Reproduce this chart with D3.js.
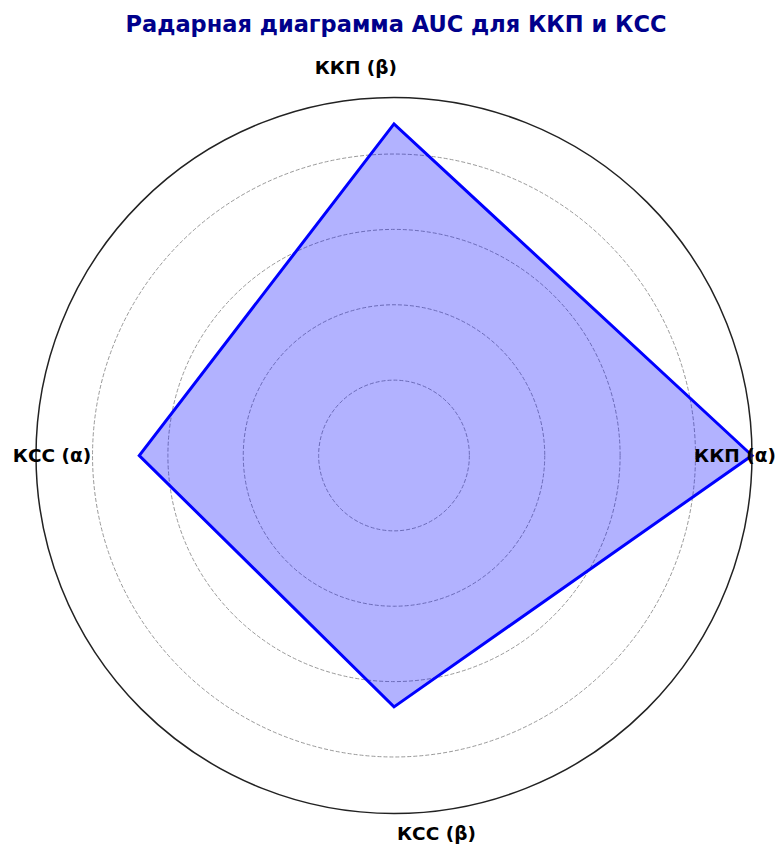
<!DOCTYPE html>
<html>
<head>
<meta charset="utf-8">
<script src="https://cdn.jsdelivr.net/npm/d3@7.9.0/dist/d3.min.js"></script>
<style>
  body { margin: 0; background: #fff; }
  svg { display: block; font-family: "DejaVu Sans", sans-serif; }
</style>
</head>
<body>
<svg id="radar" width="780" height="845"></svg>
<script>
// AUC values per axis (counter-clockwise from the right)
const axes = ['ККП (α)', 'ККП (β)', 'КСС (α)', 'КСС (β)'];
const aucValues = [0.95, 0.88, 0.676, 0.667];
const gridTicks = [0.2, 0.4, 0.6, 0.8];
const rMax = 0.95;

const svg = d3.select('#radar');
const cx = 394, cy = 455.5, R = 358;

const r = d3.scaleLinear().domain([0, rMax]).range([0, R]);
const angle = d3.scaleLinear().domain([0, axes.length]).range([0, 2 * Math.PI]);

const px = (i, v) => cx + r(v) * Math.cos(angle(i));
const py = (i, v) => cy - r(v) * Math.sin(angle(i));

svg.append('text')
  .attr('x', 396).attr('y', 32)
  .attr('text-anchor', 'middle')
  .attr('font-size', 22.5).attr('font-weight', 'bold')
  .attr('fill', '#00008b')
  .text('Радарная диаграмма AUC для ККП и КСС');

// grid circles
svg.selectAll('circle.grid')
  .data(gridTicks)
  .join('circle')
  .attr('class', 'grid')
  .attr('cx', cx).attr('cy', cy)
  .attr('r', d => r(d))
  .attr('fill', 'none')
  .attr('stroke', '#999')
  .attr('stroke-width', 1)
  .attr('stroke-dasharray', '4,2');

// radar polygon
const pts = aucValues.map((v, i) => [px(i, v), py(i, v)]);
svg.append('path')
  .attr('d', d3.line().curve(d3.curveLinearClosed)(pts))
  .attr('fill', 'rgba(0,0,255,0.3)')
  .attr('stroke', '#0000ff')
  .attr('stroke-width', 3)
  .attr('stroke-linejoin', 'miter');

// outer frame
svg.append('circle')
  .attr('cx', cx).attr('cy', cy).attr('r', R)
  .attr('fill', 'none')
  .attr('stroke', '#222')
  .attr('stroke-width', 1.5);

// axis labels
const labelPos = [
  { x: 735, y: 462, anchor: 'middle' },
  { x: 397, y: 74, anchor: 'end' },
  { x: 52, y: 462, anchor: 'middle' },
  { x: 397, y: 840, anchor: 'start' }
];
svg.selectAll('text.axis')
  .data(axes)
  .join('text')
  .attr('class', 'axis')
  .attr('x', (d, i) => labelPos[i].x)
  .attr('y', (d, i) => labelPos[i].y)
  .attr('text-anchor', (d, i) => labelPos[i].anchor)
  .attr('font-size', 18.5).attr('font-weight', 'bold')
  .attr('fill', '#000')
  .text(d => d);
</script>
</body>
</html>
